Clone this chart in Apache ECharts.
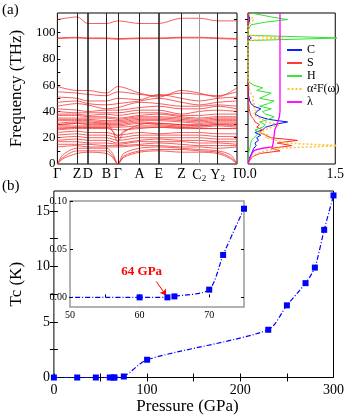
<!DOCTYPE html>
<html>
<head>
<meta charset="utf-8">
<script src="https://cdn.jsdelivr.net/npm/echarts@6/dist/echarts.min.js"></script>
<style>
  html, body { margin: 0; padding: 0; background: #fff; }
  #chart { width: 347px; height: 417px; }
</style>
</head>
<body>
<div id="chart"></div>
<script>
// ---- (a) phonon bands ----
// k-path positions (arbitrary path length) and labels
const kTicks = [0, 21.3, 33, 53.3, 65.7, 89.3, 110, 134.7, 154, 174, 195];
const kLabels = ['Γ', 'Z', 'D', 'B', 'Γ', 'A', 'E', 'Z', 'C{sub|2}', 'Y{sub|2}', 'Γ'];
// bands sampled at the high-symmetry points (THz)
const bandsMain = [
  [110, 112, 107, 107, 109, 107, 107, 111, 111, 109, 109],
  [96, 96.5, 96, 96, 95.5, 96, 96, 96.5, 96.5, 96, 95.5],
  [95.5, 96, 95.5, 95.5, 95, 95.5, 95.5, 96, 96, 95.5, 95],
  [59, 56, 56, 54, 59, 54, 51, 56, 54, 51, 58],
  [55, 54, 53, 52, 55, 53, 52, 54, 53, 52, 55],
  [51, 50, 48, 48, 50, 49, 53, 50, 48, 50, 51],
  [47, 48, 46, 45, 46, 48, 50, 47, 45, 47, 48],
  [44, 46, 45, 42, 43, 47, 46, 44, 44, 45, 44],
  [42, 41, 40, 41, 41, 43, 44, 42, 42, 44, 42],
  [40, 39, 39, 39, 39, 41, 41, 38, 40, 41, 40],
  [38, 38, 37, 38, 37, 39, 39, 37, 37, 38, 38],
  [37, 37, 36, 36, 35, 37, 38, 36, 35, 36, 36],
  [35, 35, 35, 35, 34, 36, 36, 35, 34, 35, 35],
  [34, 34, 34, 33, 33, 35, 35, 34, 33, 34, 34],
  [33, 33, 33, 32, 32, 34, 34, 33, 32, 33, 33],
  [31, 32, 32, 31, 31, 33, 33, 32, 31, 32, 32],
  [30, 31, 30, 30, 30, 32, 31, 30, 30, 31, 31],
  [29, 29, 29, 29, 29, 31, 30, 29, 29, 30, 29],
  [28, 28, 28, 28, 28, 29, 29, 28, 28, 29, 28],
  [26, 27, 27, 27, 26, 27, 28, 27, 27, 27, 27],
  [24, 25, 24, 24, 22, 24, 23, 24, 24, 23, 23],
  [22, 23, 22, 22, 20, 22, 22, 22, 22, 21, 21],
  [20, 21, 20, 20, 18, 20, 20, 20, 20, 19, 19],
  [18, 19, 18, 18, 16, 18, 19, 18, 18, 17, 17],
  [17, 17, 16, 16, 15, 17, 17, 17, 16, 16, 15],
  [15, 15, 15, 14, 14, 15, 16, 15, 14, 14, 14],
  [13, 14, 13, 13, 13, 14, 14, 13, 13, 12, 13]
];
// finer path for acoustic branches and the soft bands near Γ
const kFine = [0, 6, 21.3, 33, 53.3, 60, 65.7, 72, 89.3, 110, 134.7, 154, 174, 188, 195];
const bandsFine = [
  [0, 7, 12, 12, 12, 8, 0, 8, 12, 13, 12, 11, 10, 7, 0],
  [0, 5, 10, 10, 10, 6, 0, 6, 10, 11, 11, 10, 9, 5, 0],
  [0, 4, 8, 9, 8, 5, 0, 5, 9, 10, 9, 9, 8, 4, 0],
  [30, 30, 31, 31, 31, 25, 17, 24, 30, 31, 30, 29, 30, 30, 30],
  [27, 27, 28, 28, 28, 25, 21, 25, 28, 28, 28, 27, 27, 27, 27]
];

// ---- (a) right: projected DOS, α²F and λ ----
const dosFreq = [0, 2, 4, 6, 8, 10, 12, 14, 16, 18, 20, 22, 24, 26, 28, 30, 32, 34, 36, 38, 40,
  42, 44, 46, 48, 50, 52, 54, 56, 58, 60, 62, 64, 90, 94, 96, 98, 102, 106, 108, 110, 112, 115];
const dosC = [0, 0.01, 0.02, 0.04, 0.06, 0.08, 0.1, 0.14, 0.12, 0.18, 0.15, 0.22, 0.12, 0.25, 0.3,
  0.45, 0.68, 0.35, 0.2, 0.12, 0.15, 0.22, 0.1, 0.05, 0.03, 0.02, 0.01, 0.01, 0.01, 0.01, 0.01, 0, 0,
  0, 0, 0.06, 0, 0, 0, 0.02, 0.03, 0.02, 0];
const dosS = [0, 0.02, 0.05, 0.1, 0.2, 0.55, 0.4, 0.75, 0.5, 0.85, 0.4, 0.3, 0.2, 0.25, 0.15, 0.2,
  0.12, 0.1, 0.06, 0.04, 0.03, 0.02, 0.02, 0.01, 0.01, 0.01, 0, 0, 0, 0, 0, 0, 0,
  0, 0, 0.01, 0, 0, 0, 0, 0.01, 0, 0];
const dosH = [0, 0, 0, 0, 0.01, 0.02, 0.03, 0.04, 0.05, 0.06, 0.1, 0.15, 0.2, 0.12, 0.25, 0.3, 0.2,
  0.35, 0.45, 0.3, 0.25, 0.4, 0.2, 0.35, 0.45, 0.2, 0.3, 0.4, 0.15, 0.25, 0.1, 0.03, 0,
  0, 0, 1.6, 0, 0, 0.05, 0.3, 0.68, 0.4, 0.05];
const a2F = [0, 0.01, 0.03, 0.1, 0.15, 0.3, 0.5, 1.6, 0.6, 0.5, 0.3, 0.35, 0.2, 0.3, 0.4, 0.55, 0.3,
  0.25, 0.15, 0.1, 0.15, 0.1, 0.12, 0.1, 0.08, 0.1, 0.08, 0.05, 0.03, 0.02, 0.02, 0.01, 0,
  0, 0, 0.6, 0, 0, 0, 0.05, 0.1, 0.05, 0];
const lamFreq = [0, 4, 8, 10, 11, 12, 13, 18, 22, 26, 28, 30, 33, 36, 40, 115];
const lamVal = [0, 0.03, 0.07, 0.1, 0.15, 0.25, 0.42, 0.44, 0.45, 0.46, 0.48, 0.5, 0.52, 0.54, 0.55, 0.55];

// ---- (b) Tc vs pressure ----
const pressure = [0, 25, 45, 60, 64, 65, 75, 100, 230, 250, 270, 280, 290, 300];
const tc = [0, 0, 0, 0, 0, 0.002, 0.09, 1.6, 4.3, 6.5, 8.5, 9.9, 13.3, 16.4];
const insetP = [45, 60, 64, 65, 70, 72, 75];
const insetTc = [0, 0, 0, 0.001, 0.008, 0.044, 0.092];

const FONT = '"Liberation Serif", "Times New Roman", serif';
const RED = '#f42a2a';
const BLUE = '#0000ff';

const chart = echarts.init(document.getElementById('chart'));

const tickIn = (vals, len) => ({ show: true, inside: true, length: len || 3, customValues: vals, lineStyle: { color: '#000', width: 1 } });
const noLine = { show: false };

const bandSeries = [];
bandsMain.forEach((b) => {
  bandSeries.push({
    type: 'line', xAxisIndex: 0, yAxisIndex: 0, silent: true,
    data: kTicks.map((k, j) => [k, b[j]]),
    smooth: 0.3, showSymbol: false, symbol: 'none',
    lineStyle: { color: RED, width: 0.75 }
  });
});
bandsFine.forEach((b) => {
  bandSeries.push({
    type: 'line', xAxisIndex: 0, yAxisIndex: 0, silent: true,
    data: kFine.map((k, j) => [k, b[j]]),
    smooth: 0.3, showSymbol: false, symbol: 'none',
    lineStyle: { color: RED, width: 0.75 }
  });
});
// high-symmetry vertical lines
bandSeries[0].markLine = {
  silent: true, symbol: 'none', label: { show: false },
  data: kTicks.slice(1, -1).map((k, i) => ({
    xAxis: k,
    lineStyle: {
      type: 'solid',
      color: kLabels[i + 1].startsWith('C') ? '#999' : '#222',
      width: (i === 1 || i === 5) ? 1.6 : 1
    }
  }))
};

// DOS curves: x = weight, y = frequency
const dosLine = (name, vals, color, type, width) => ({
  name, type: 'line', xAxisIndex: 1, yAxisIndex: 2, silent: true,
  data: dosFreq.map((f, i) => [vals[i], f]),
  showSymbol: false, symbol: 'none',
  lineStyle: { color, width: width || 1, type: type || 'solid' },
  itemStyle: { color }
});

const LINE_ICON = 'path://M0,0L16,0L16,2L0,2Z';
const DOT_ICON = 'path://M0,0h2v2h-2zM4,0h2v2h-2zM8,0h2v2h-2zM12,0h2v2h-2z';

const option = {
  animation: false,
  textStyle: { fontFamily: FONT },
  grid: [
    { left: 41, top: 13, width: 196, height: 151, show: true, borderColor: '#000', borderWidth: 1 },
    { left: 248, top: 13, width: 88, height: 151, show: true, borderColor: '#000', borderWidth: 1 },
    { left: 41, top: 191, width: 293.5, height: 186.5, show: true, borderColor: '#000', borderWidth: 1 },
    { left: 70, top: 201, width: 174, height: 106, show: true, borderColor: '#999', borderWidth: 1.5, backgroundColor: '#fff' }
  ],
  legend: {
    orient: 'vertical', left: 282, top: 39, itemWidth: 15, itemHeight: 2, itemGap: 1,
    textStyle: { fontFamily: FONT, fontSize: 12, color: '#000', padding: [0, 0, 0, 0] },
    data: [
      { name: 'C', icon: LINE_ICON },
      { name: 'S', icon: LINE_ICON },
      { name: 'H', icon: LINE_ICON },
      { name: 'α²F(ω)', icon: DOT_ICON },
      { name: 'λ', icon: LINE_ICON }
    ]
  },
  xAxis: [
    {
      gridIndex: 0, type: 'value', min: 0, max: 195, splitLine: noLine, axisLine: noLine,
      axisTick: { show: false },
      axisLabel: {
        customValues: kTicks, margin: 3, fontSize: 14, color: '#000', fontFamily: FONT,
        formatter: (v) => {
          let best = 0;
          kTicks.forEach((k, i) => { if (Math.abs(k - v) < Math.abs(kTicks[best] - v)) best = i; });
          return kLabels[best];
        },
        rich: { sub: { fontSize: 9, fontFamily: FONT, color: '#000', padding: [7, 0, 0, 0] } }
      }
    },
    {
      gridIndex: 1, type: 'value', min: 0, max: 1.5, splitLine: noLine, axisLine: noLine,
      axisTick: { show: false },
      axisLabel: { customValues: [0, 1.5], margin: 3, fontSize: 14, color: '#000', fontFamily: FONT, formatter: (v) => v.toFixed(1) }
    },
    {
      gridIndex: 2, type: 'value', min: 0, max: 300, splitLine: noLine, axisLine: noLine,
      axisTick: tickIn([0, 50, 100, 150, 200, 250, 300], 4),
      axisLabel: { customValues: [0, 100, 200, 300], margin: 6, fontSize: 14, color: '#000', fontFamily: FONT }
    },
    {
      gridIndex: 2, type: 'value', min: 0, max: 300, position: 'top', splitLine: noLine, axisLine: noLine,
      axisTick: tickIn([50, 100, 150, 200, 250], 4), axisLabel: { show: false }
    },
    {
      gridIndex: 3, type: 'value', min: 50, max: 75, splitLine: noLine, axisLine: noLine,
      axisTick: tickIn([55, 60, 65, 70], 3),
      axisLabel: { customValues: [50, 60, 70], margin: 3, fontSize: 10, color: '#000', fontFamily: FONT }
    }
  ],
  yAxis: [
    {
      gridIndex: 0, type: 'value', min: 0, max: 115, splitLine: noLine, axisLine: noLine,
      axisTick: tickIn([10, 20, 30, 40, 50, 60, 70, 80, 90, 100, 110], 3),
      axisLabel: { customValues: [0, 20, 40, 60, 80, 100], margin: 2, fontSize: 13, color: '#000', fontFamily: FONT },
      name: 'Frequency (THz)', nameLocation: 'middle', nameGap: 22,
      nameTextStyle: { fontSize: 17, color: '#000', fontFamily: FONT, fontWeight: 400 }
    },
    {
      gridIndex: 0, type: 'value', min: 0, max: 115, position: 'right', splitLine: noLine, axisLine: noLine,
      axisTick: tickIn([10, 20, 30, 40, 50, 60, 70, 80, 90, 100, 110], 3), axisLabel: { show: false }
    },
    {
      gridIndex: 1, type: 'value', min: 0, max: 115, position: 'right', splitLine: noLine, axisLine: noLine,
      axisTick: tickIn([10, 20, 30, 40, 50, 60, 70, 80, 90, 100, 110], 3), axisLabel: { show: false }
    },
    {
      gridIndex: 2, type: 'value', min: 0, max: 16.8, splitLine: noLine, axisLine: noLine,
      axisTick: tickIn([2.5, 5, 7.5, 10, 12.5, 15], 4),
      axisLabel: { customValues: [0, 5, 10, 15], margin: 4, fontSize: 14, color: '#000', fontFamily: FONT },
      name: 'Tc (K)', nameLocation: 'middle', nameGap: 19,
      nameTextStyle: { fontSize: 17, color: '#000', fontFamily: FONT, fontWeight: 400 }
    },
    {
      gridIndex: 2, type: 'value', min: 0, max: 16.8, position: 'right', splitLine: noLine, axisLine: noLine,
      axisTick: tickIn([2.5, 5, 7.5, 10, 12.5, 15], 4), axisLabel: { show: false }
    },
    {
      gridIndex: 3, type: 'value', min: -0.01, max: 0.1, splitLine: noLine, axisLine: noLine,
      axisTick: tickIn([0, 0.05, 0.1], 3),
      axisLabel: { customValues: [0, 0.05, 0.1], margin: 3, fontSize: 10, color: '#000', fontFamily: FONT, formatter: (v) => v.toFixed(2) }
    },
    {
      gridIndex: 3, type: 'value', min: -0.01, max: 0.1, position: 'right', splitLine: noLine, axisLine: noLine,
      axisTick: tickIn([0, 0.05], 3), axisLabel: { show: false }
    }
  ],
  graphic: [
    { type: 'text', left: 2, top: 3, style: { text: '(a)', font: '15px ' + FONT, fill: '#000' } },
    { type: 'text', left: 2, top: 179, style: { text: '(b)', font: '15px ' + FONT, fill: '#000' } },
    {
      type: 'text', x: 187.5, y: 407,
      style: { text: 'Pressure (GPa)', font: '17px ' + FONT, fill: '#000', align: 'center', verticalAlign: 'middle' }
    }
  ],
  series: [
    ...bandSeries,
    dosLine('C', dosC, '#0010ff'),
    dosLine('S', dosS, '#ff2a2a'),
    dosLine('H', dosH, '#33e033'),
    dosLine('α²F(ω)', a2F, '#ffc233', [2, 2], 1.5),
    {
      name: 'λ', type: 'line', xAxisIndex: 1, yAxisIndex: 2, silent: true,
      data: lamFreq.map((f, i) => [lamVal[i], f]),
      showSymbol: false, symbol: 'none',
      lineStyle: { color: '#ff00ff', width: 1.3 }, itemStyle: { color: '#ff00ff' }
    },
    {
      type: 'line', xAxisIndex: 2, yAxisIndex: 3, silent: true,
      data: pressure.map((p, i) => [p, tc[i]]),
      smooth: 0.25, symbol: 'rect', symbolSize: 6, showSymbol: true,
      lineStyle: { color: BLUE, width: 1.2, type: [5, 2, 1, 2] }, itemStyle: { color: BLUE }
    },
    {
      type: 'line', xAxisIndex: 4, yAxisIndex: 5, silent: true, z: 5,
      data: insetP.map((p, i) => [p, insetTc[i]]),
      smooth: 0.25, symbol: 'rect', symbolSize: 6, showSymbol: true,
      lineStyle: { color: BLUE, width: 1.2, type: [5, 2, 1, 2] }, itemStyle: { color: BLUE },
      markLine: {
        silent: true, symbol: ['none', 'arrow'], symbolSize: 6,
        label: { show: false },
        lineStyle: { color: '#ff0000', width: 1, type: 'solid' },
        data: [[{ coord: [62.4, 0.0165] }, { coord: [63.8, 0.002] }]]
      },
      markPoint: {
        silent: true, symbol: 'rect', symbolSize: 1,
        itemStyle: { color: 'rgba(0,0,0,0)' },
        label: { show: true, position: 'inside', formatter: '64 GPa', color: '#ff0000', fontSize: 13, fontWeight: 'bold', fontFamily: FONT },
        data: [{ coord: [60.3, 0.027] }]
      }
    }
  ]
};

chart.setOption(option);
</script>
</body>
</html>
